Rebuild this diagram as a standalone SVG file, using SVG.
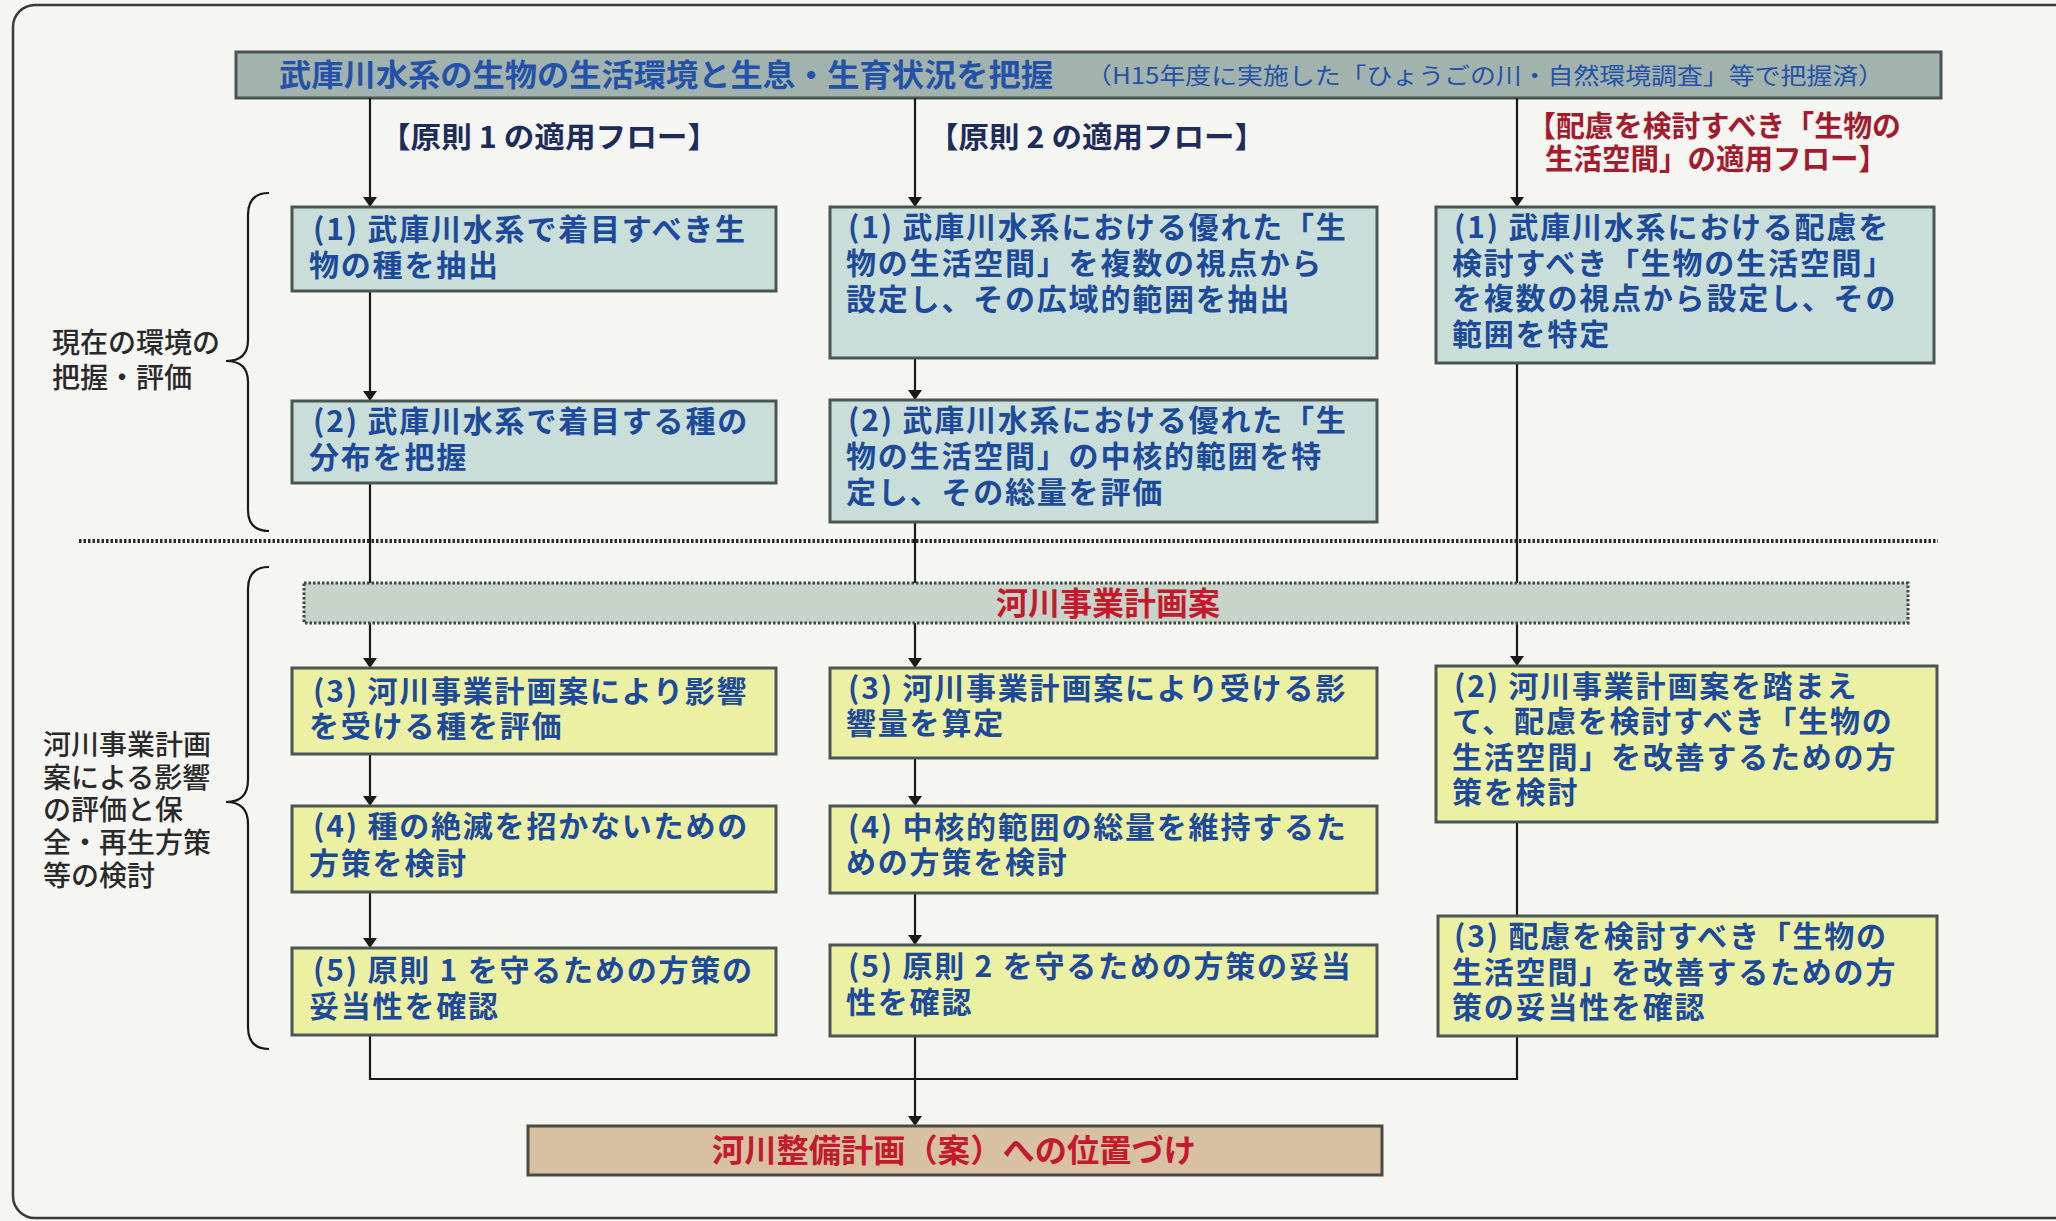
<svg xmlns="http://www.w3.org/2000/svg" width="2056" height="1221" viewBox="0 0 2056 1221">
<defs>
<marker id="arr" viewBox="0 0 10 14" refX="10" refY="7" markerWidth="10" markerHeight="14" markerUnits="userSpaceOnUse" orient="auto">
<path d="M0,0 L10,7 L0,14 Z" fill="#1a1a1a"/>
</marker>
<style>
.bg{fill:#f5f5f1}
.frame{fill:none;stroke:#3a3a3a;stroke-width:2.5}
.hdr{fill:#a2b3ae;stroke:#4a5553;stroke-width:3}
.teal{fill:#c9ded9;stroke:#4a5654;stroke-width:3}
.yel{fill:#ebf0a3;stroke:#4a5654;stroke-width:3}
.band{fill:#c8d3ca;stroke:#3c4a44;stroke-width:3;stroke-dasharray:2.5 2}
.fin{fill:#d8c1a2;stroke:#4a4a44;stroke-width:3}
.t{font-family:"Noto Sans CJK JP","Noto Sans",sans-serif;font-weight:700;font-size:30px;letter-spacing:1.8px;fill:#1d4a9a}
.hm{font-family:"Noto Sans CJK JP","Noto Sans",sans-serif;font-weight:700;font-size:31px;fill:#2452a8}
.hs{font-family:"Noto Sans CJK JP","Noto Sans",sans-serif;font-weight:400;font-size:23px;fill:#2452a8}
.col{font-family:"Noto Sans CJK JP","Noto Sans",sans-serif;font-weight:700;font-size:29px;fill:#1e2c5a}
.red{font-family:"Noto Sans CJK JP","Noto Sans",sans-serif;font-weight:700;font-size:29px;fill:#a31c2e}
.rt{font-family:"Noto Sans CJK JP","Noto Sans",sans-serif;font-weight:700;font-size:32px;fill:#c41a2c}
.lab{font-family:"Noto Sans CJK JP","Noto Sans",sans-serif;font-weight:500;font-size:28px;fill:#2a2a2a}
.ln{fill:none;stroke:#1a1a1a;stroke-width:2.2}
.dot{fill:none;stroke:#2a2a2a;stroke-width:4;stroke-dasharray:2.5 2}
</style>
</defs>
<rect class="bg" x="0" y="0" width="2056" height="1221"/>
<rect class="frame" x="13" y="5" width="2080" height="1213" rx="22"/>

<g id="header">
<rect class="hdr" x="236" y="52" width="1705" height="46"/>
<text class="hm" x="279" y="86" textLength="774" lengthAdjust="spacingAndGlyphs">武庫川水系の生物の生活環境と生息・生育状況を把握</text>
<text class="hs" x="1086" y="84" textLength="798" lengthAdjust="spacingAndGlyphs">（H15年度に実施した「ひょうごの川・自然環境調査」等で把握済）</text>
</g>

<g id="flow-titles">
<text class="col" x="380" y="148" textLength="338" lengthAdjust="spacingAndGlyphs">【原則 1 の適用フロー】</text>
<text class="col" x="928" y="148" textLength="337" lengthAdjust="spacingAndGlyphs">【原則 2 の適用フロー】</text>
<text class="red" x="1714" y="137" text-anchor="middle" textLength="374" lengthAdjust="spacingAndGlyphs">【配慮を検討すべき「生物の</text>
<text class="red" x="1716" y="170" text-anchor="middle" textLength="342" lengthAdjust="spacingAndGlyphs">生活空間」の適用フロー】</text>
</g>

<g id="side-labels">
<path class="ln" d="M269,193 Q248,193 248,215 L248,340 Q248,361 226,361 Q248,361 248,382 L248,510 Q248,531 269,531"/>
<text class="lab" x="52" y="353">現在の環境の</text>
<text class="lab" x="52" y="388">把握・評価</text>
<path class="ln" d="M269,567 Q248,567 248,589 L248,780 Q248,802 226,802 Q248,802 248,824 L248,1027 Q248,1049 269,1049"/>
<text class="lab" x="43" y="755">河川事業計画</text>
<text class="lab" x="43" y="788">案による影響</text>
<text class="lab" x="43" y="820">の評価と保</text>
<text class="lab" x="43" y="853">全・再生方策</text>
<text class="lab" x="43" y="886">等の検討</text>
</g>

<line class="dot" x1="79" y1="541" x2="1938" y2="541"/>

<g id="connectors">
<line class="ln" x1="370" y1="98" x2="370" y2="207" marker-end="url(#arr)"/>
<line class="ln" x1="915" y1="98" x2="915" y2="207" marker-end="url(#arr)"/>
<line class="ln" x1="1517" y1="98" x2="1517" y2="207" marker-end="url(#arr)"/>
<line class="ln" x1="370" y1="291" x2="370" y2="401" marker-end="url(#arr)"/>
<line class="ln" x1="915" y1="358" x2="915" y2="400" marker-end="url(#arr)"/>
<line class="ln" x1="370" y1="483" x2="370" y2="583"/>
<line class="ln" x1="915" y1="522" x2="915" y2="583"/>
<line class="ln" x1="1517" y1="363" x2="1517" y2="583"/>
<line class="ln" x1="370" y1="623" x2="370" y2="668" marker-end="url(#arr)"/>
<line class="ln" x1="915" y1="623" x2="915" y2="668" marker-end="url(#arr)"/>
<line class="ln" x1="1517" y1="623" x2="1517" y2="666" marker-end="url(#arr)"/>
<line class="ln" x1="370" y1="754" x2="370" y2="806" marker-end="url(#arr)"/>
<line class="ln" x1="370" y1="892" x2="370" y2="948" marker-end="url(#arr)"/>
<line class="ln" x1="915" y1="758" x2="915" y2="806" marker-end="url(#arr)"/>
<line class="ln" x1="915" y1="893" x2="915" y2="945" marker-end="url(#arr)"/>
<line class="ln" x1="1517" y1="822" x2="1517" y2="916"/>
<path class="ln" d="M370,1035 L370,1079 L1517,1079 L1517,1036"/>
<line class="ln" x1="915" y1="1036" x2="915" y2="1126" marker-end="url(#arr)"/>
</g>

<g id="p1-1">
<rect class="teal" x="292" y="207" width="484" height="84"/>
<text class="t" x="313" y="240">(1) 武庫川水系で着目すべき生</text>
<text class="t" x="309" y="276">物の種を抽出</text>
</g>
<g id="p1-2">
<rect class="teal" x="292" y="401" width="484" height="82"/>
<text class="t" x="313" y="432">(2) 武庫川水系で着目する種の</text>
<text class="t" x="309" y="468">分布を把握</text>
</g>
<g id="p2-1">
<rect class="teal" x="830" y="207" width="547" height="151"/>
<text class="t" x="848" y="238">(1) 武庫川水系における優れた「生</text>
<text class="t" x="846" y="274">物の生活空間」を複数の視点から</text>
<text class="t" x="846" y="310">設定し、その広域的範囲を抽出</text>
</g>
<g id="p2-2">
<rect class="teal" x="830" y="400" width="547" height="122"/>
<text class="t" x="848" y="431">(2) 武庫川水系における優れた「生</text>
<text class="t" x="846" y="467">物の生活空間」の中核的範囲を特</text>
<text class="t" x="846" y="503">定し、その総量を評価</text>
</g>
<g id="c-1">
<rect class="teal" x="1436" y="207" width="498" height="156"/>
<text class="t" x="1454" y="238">(1) 武庫川水系における配慮を</text>
<text class="t" x="1452" y="274">検討すべき「生物の生活空間」</text>
<text class="t" x="1452" y="309">を複数の視点から設定し、その</text>
<text class="t" x="1452" y="345">範囲を特定</text>
</g>

<g id="plan-band">
<rect class="band" x="304" y="583" width="1604" height="40"/>
<text class="rt" x="1108" y="615" text-anchor="middle">河川事業計画案</text>
</g>

<g id="p1-3">
<rect class="yel" x="292" y="668" width="484" height="86"/>
<text class="t" x="313" y="702">(3) 河川事業計画案により影響</text>
<text class="t" x="309" y="737">を受ける種を評価</text>
</g>
<g id="p1-4">
<rect class="yel" x="292" y="806" width="484" height="86"/>
<text class="t" x="313" y="837">(4) 種の絶滅を招かないための</text>
<text class="t" x="309" y="874">方策を検討</text>
</g>
<g id="p1-5">
<rect class="yel" x="292" y="948" width="484" height="87"/>
<text class="t" x="313" y="981">(5) 原則 1 を守るための方策の</text>
<text class="t" x="309" y="1017">妥当性を確認</text>
</g>
<g id="p2-3">
<rect class="yel" x="830" y="668" width="547" height="90"/>
<text class="t" x="848" y="699">(3) 河川事業計画案により受ける影</text>
<text class="t" x="846" y="734">響量を算定</text>
</g>
<g id="p2-4">
<rect class="yel" x="830" y="806" width="547" height="87"/>
<text class="t" x="848" y="838">(4) 中核的範囲の総量を維持するた</text>
<text class="t" x="846" y="873">めの方策を検討</text>
</g>
<g id="p2-5">
<rect class="yel" x="830" y="945" width="547" height="91"/>
<text class="t" x="848" y="977">(5) 原則 2 を守るための方策の妥当</text>
<text class="t" x="846" y="1013">性を確認</text>
</g>
<g id="c-2">
<rect class="yel" x="1436" y="666" width="501" height="156"/>
<text class="t" x="1454" y="697">(2) 河川事業計画案を踏まえ</text>
<text class="t" x="1452" y="732">て、配慮を検討すべき「生物の</text>
<text class="t" x="1452" y="768">生活空間」を改善するための方</text>
<text class="t" x="1452" y="803">策を検討</text>
</g>
<g id="c-3">
<rect class="yel" x="1438" y="916" width="499" height="120"/>
<text class="t" x="1454" y="947">(3) 配慮を検討すべき「生物の</text>
<text class="t" x="1452" y="983">生活空間」を改善するための方</text>
<text class="t" x="1452" y="1018">策の妥当性を確認</text>
</g>

<g id="final">
<rect class="fin" x="528" y="1126" width="854" height="49"/>
<text class="rt" x="954" y="1162" text-anchor="middle" textLength="484" lengthAdjust="spacingAndGlyphs">河川整備計画（案）への位置づけ</text>
</g>
</svg>
